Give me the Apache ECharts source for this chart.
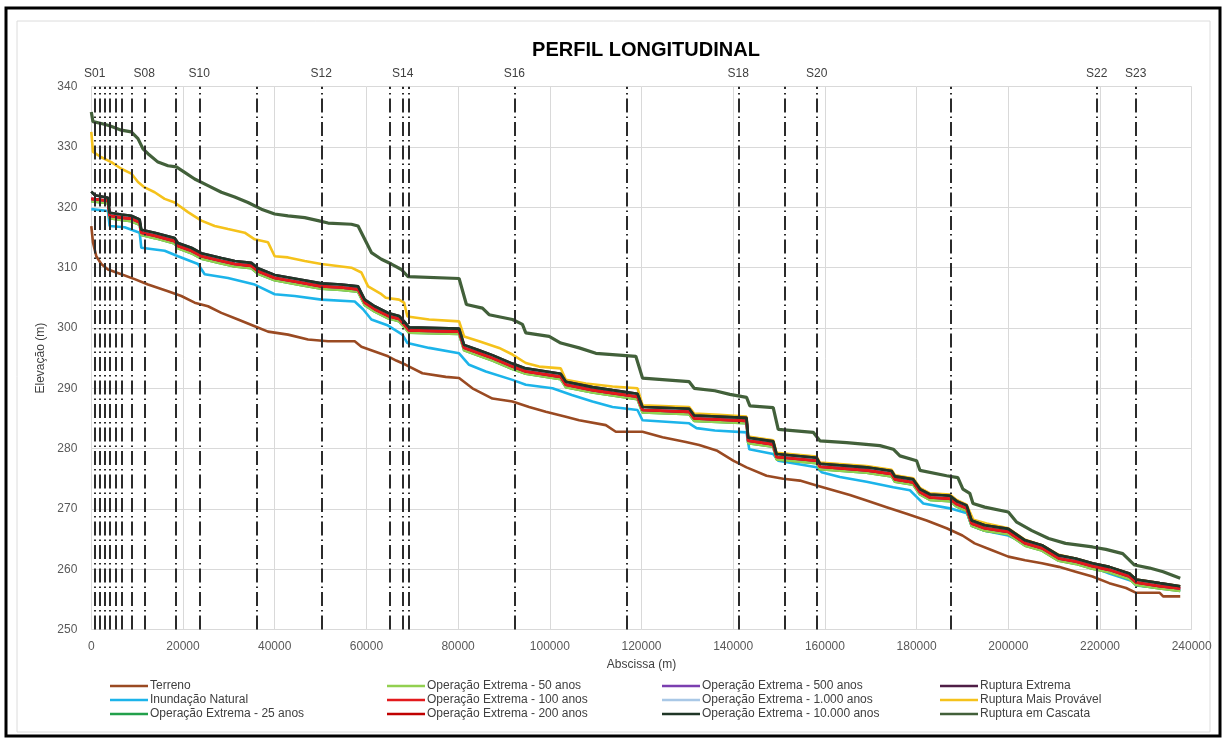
<!DOCTYPE html>
<html>
<head>
<meta charset="utf-8">
<script src="https://cdn.jsdelivr.net/npm/echarts@6/dist/echarts.min.js"></script>
<style>
html,body{margin:0;padding:0;background:#fff;}
#chart{width:1227px;height:742px;}
</style>
</head>
<body>
<div id="chart"></div>
<script>
// ---- data ----
const xTicks = [0, 20000, 40000, 60000, 80000, 100000, 120000, 140000, 160000, 180000, 200000, 220000, 240000];
const yTicks = [250, 260, 270, 280, 290, 300, 310, 320, 330, 340];

const sectionX = [740, 1750, 2990, 4080, 5230, 6540, 8880, 11550, 18410, 23550, 36070, 50160, 65150, 67920, 69140, 92260, 116770, 141110, 151300, 158210, 187440, 219280, 227790];
const sectionLabels = ['S01', '', '', '', '', '', '', 'S08', '', 'S10', '', 'S12', '', 'S14', '', 'S16', '', 'S18', '', 'S20', '', 'S22', 'S23'];

const terreno = [[0,316.9],[364,314.2],[1091,311.9],[2182,310.6],[3636,309.7],[6545,308.9],[9455,308.1],[12364,307.2],[16727,306.1],[19636,305.3],[22545,304.2],[25455,303.6],[28364,302.5],[32000,301.4],[35636,300.3],[38545,299.4],[42909,298.9],[47273,298.1],[51636,297.8],[57455,297.8],[58909,296.9],[61818,296.1],[64727,295.3],[66500,294.6],[68582,293.9],[72218,292.5],[77309,291.9],[80218,291.7],[83127,290.0],[87491,288.3],[91855,287.8],[95491,286.9],[99127,286.1],[103491,285.3],[106400,284.7],[112218,283.9],[114400,282.8],[120218,282.8],[124582,281.9],[129673,281.1],[132582,280.6],[136364,279.7],[140000,278.0],[142909,276.9],[147273,275.5],[150909,275.0],[154545,274.7],[158182,273.9],[161818,273.1],[165455,272.3],[169091,271.4],[173455,270.3],[177818,269.2],[182182,268.1],[186545,266.8],[190000,265.6],[192660,264.3],[196330,263.2],[200000,262.1],[203670,261.5],[207340,261.0],[211010,260.4],[214680,259.6],[218350,258.8],[222020,257.7],[225690,256.9],[227890,256.1],[233030,256.1],[233770,255.5],[237500,255.5]];

const inundacao = [[0,319.7],[3636,319.4],[4000,316.9],[7273,316.7],[10545,315.8],[10909,313.3],[16000,312.8],[18909,311.9],[23273,310.6],[24727,308.9],[29818,308.3],[35636,307.2],[40000,305.6],[44364,305.3],[50182,304.7],[57455,304.4],[59273,303.1],[61091,301.4],[64727,300.4],[67855,298.9],[68945,297.5],[73673,296.7],[80218,295.8],[82400,293.9],[86036,292.8],[91855,291.4],[94764,290.6],[100582,290.0],[104800,288.9],[109310,287.8],[113673,286.9],[119127,286.4],[120218,284.7],[130400,284.2],[132000,283.4],[136000,283.0],[142909,282.7],[143500,279.9],[148727,279.1],[149818,278.0],[158182,276.9],[159273,276.1],[163273,275.3],[169091,274.5],[174909,273.6],[178545,273.1],[180000,272.0],[181455,270.9],[187273,270.1],[191000,269.3],[192000,267.2],[194860,266.4],[200000,265.6],[203670,264.3],[207340,263.2],[211010,261.8],[218350,260.4],[222020,259.3],[227160,258.0],[227890,257.3],[233030,256.9],[237500,256.5]];

const bundleLow = [[0,321.0],[3636,320.7],[4000,318.2],[6545,317.9],[8727,317.7],[10545,317.1],[10909,315.4],[13818,314.9],[18182,314.0],[18909,313.2],[21818,312.4],[24000,311.5],[28364,310.7],[31273,310.2],[34909,309.9],[36364,309.0],[40000,307.9],[45818,307.1],[50182,306.5],[54545,306.3],[58182,306.0],[59636,303.8],[61818,302.7],[64727,301.6],[67127,301.1],[68218,300.2],[69309,299.2],[80218,299.0],[81309,296.3],[84582,295.4],[87491,294.6],[91855,293.2],[94764,292.4],[102400,291.5],[103491,290.2],[109310,289.3],[113673,288.8],[119127,288.2],[120218,286.0],[130400,285.7],[131490,284.6],[142909,284.2],[143273,280.9],[148727,280.3],[149455,278.2],[158182,277.6],[158909,276.6],[169091,276.0],[174545,275.4],[175273,274.5],[179273,274.0],[180727,272.4],[182909,271.5],[187273,271.3],[188727,270.4],[190909,269.7],[192000,267.2],[194860,266.4],[200000,265.8],[203670,263.9],[207340,263.1],[211010,261.4],[214680,260.9],[218350,260.1],[222020,259.5],[226420,258.4],[227890,257.4],[233030,256.8],[237500,256.4]];

const bundleMid = [[0,321.4],[3636,321.1],[4000,318.6],[6545,318.3],[8727,318.1],[10545,317.5],[10909,315.8],[13818,315.3],[18182,314.4],[18909,313.6],[21818,312.8],[24000,311.9],[28364,311.1],[31273,310.6],[34909,310.3],[36364,309.4],[40000,308.3],[45818,307.5],[50182,306.9],[54545,306.7],[58182,306.4],[59636,304.2],[61818,303.1],[64727,302.0],[67127,301.5],[68218,300.6],[69309,299.6],[80218,299.4],[81309,296.7],[84582,295.8],[87491,295.0],[91855,293.6],[94764,292.8],[102400,291.9],[103491,290.6],[109310,289.7],[113673,289.2],[119127,288.6],[120218,286.4],[130400,286.1],[131490,285.0],[142909,284.6],[143273,281.3],[148727,280.7],[149455,278.6],[158182,278.0],[158909,277.0],[169091,276.4],[174545,275.8],[175273,274.9],[179273,274.4],[180727,272.8],[182909,271.9],[187273,271.7],[188727,270.8],[190909,270.1],[192000,267.6],[194860,266.8],[200000,266.2],[203670,264.3],[207340,263.5],[211010,261.8],[214680,261.3],[218350,260.5],[222020,259.9],[226420,258.8],[227890,257.8],[233030,257.2],[237500,256.8]];

const bundleTop = [[0,322.6],[800,322.0],[3636,321.6],[4000,319.1],[6545,318.8],[8727,318.6],[10545,318.0],[10909,316.3],[13818,315.8],[18182,314.9],[18909,314.1],[21818,313.3],[24000,312.4],[28364,311.6],[31273,311.1],[34909,310.8],[36364,309.9],[40000,308.8],[45818,308.0],[50182,307.4],[54545,307.2],[58182,306.9],[59636,304.7],[61818,303.6],[64727,302.5],[67127,302.0],[68218,301.1],[69309,300.1],[80218,299.9],[81309,297.2],[84582,296.3],[87491,295.5],[91855,294.1],[94764,293.3],[102400,292.4],[103491,291.1],[109310,290.2],[113673,289.7],[119127,289.1],[120218,286.9],[130400,286.6],[131490,285.5],[142909,285.1],[143273,281.8],[148727,281.2],[149455,279.1],[158182,278.5],[158909,277.5],[169091,276.9],[174545,276.3],[175273,275.4],[179273,274.9],[180727,273.3],[182909,272.4],[187273,272.2],[188727,271.3],[190909,270.6],[192000,268.1],[194860,267.3],[200000,266.7],[203670,264.8],[207340,264.0],[211010,262.3],[214680,261.8],[218350,261.0],[222020,260.4],[226420,259.3],[227890,258.3],[233030,257.7],[237500,257.2]];

const maisProvavel = [[0,332.5],[364,329.2],[2182,328.3],[4364,327.5],[6545,326.4],[8727,325.6],[10182,324.2],[11636,323.3],[13818,322.5],[16000,321.4],[18182,320.8],[21091,319.2],[24000,317.8],[26909,316.9],[29818,316.4],[33455,315.8],[35636,314.7],[38545,314.2],[40000,311.9],[42909,311.7],[46545,311.1],[50182,310.6],[56727,310.0],[58909,309.2],[60364,306.9],[63273,305.6],[64218,305.0],[67127,304.7],[68218,304.2],[68945,301.9],[73673,301.4],[80218,301.1],[81309,298.6],[84582,297.8],[88945,296.7],[91855,295.6],[94764,294.2],[97673,293.6],[102400,293.3],[103491,291.4],[107855,290.8],[113673,290.3],[119127,290.0],[120218,287.2],[130400,286.9],[131490,285.8],[136945,285.6],[142909,285.3],[143273,282.0],[148727,281.4],[149455,279.3],[158182,278.7],[158909,277.7],[169091,277.1],[174545,276.5],[175273,275.6],[179273,275.1],[180727,273.5],[182909,272.6],[187273,272.4],[188727,271.5],[190909,270.7],[192364,268.2],[195273,267.6],[200000,266.8],[203670,264.9],[207340,264.0],[211010,262.4],[214680,261.8],[218350,261.0],[222020,260.4],[226420,259.3],[227890,258.3],[233030,257.7],[237500,257.2]];

const cascata = [[0,335.8],[364,334.2],[2182,333.9],[3636,333.6],[4727,333.3],[6545,332.8],[8727,332.5],[10182,331.4],[11273,329.7],[12364,328.9],[14545,327.5],[16727,326.9],[18545,326.7],[20364,325.8],[22545,324.7],[25455,323.6],[28364,322.5],[31273,321.7],[34182,320.8],[37091,319.7],[40000,318.9],[42909,318.6],[46545,318.3],[49455,317.8],[51636,317.4],[56727,317.2],[58182,316.9],[59636,314.7],[61091,312.5],[63273,311.4],[65455,310.6],[67636,309.7],[69091,308.5],[80218,308.2],[81818,303.9],[85310,303.3],[86764,302.2],[91855,301.4],[94036,300.6],[94764,299.2],[99855,298.6],[102400,297.5],[106400,296.7],[110036,295.8],[113673,295.6],[118764,295.3],[120218,291.7],[130400,291.1],[131490,290.0],[136000,289.6],[139273,289.0],[142909,288.5],[143636,287.1],[148727,286.8],[149818,283.2],[157455,282.7],[158909,281.3],[164727,281.0],[172000,280.5],[174909,279.9],[176364,278.8],[180000,278.0],[180727,276.4],[186545,275.5],[189000,275.2],[190100,273.3],[191600,272.6],[192300,270.9],[194860,270.3],[200000,269.5],[201835,267.8],[205140,266.4],[208800,265.1],[212480,264.3],[218350,263.7],[221290,263.3],[224960,262.6],[227530,260.7],[230830,260.2],[233770,259.6],[237500,258.5]];

const legendCols = [
  ['Terreno', 'Inundação Natural', 'Operação Extrema - 25 anos'],
  ['Operação Extrema - 50 anos', 'Operação Extrema - 100 anos', 'Operação Extrema - 200 anos'],
  ['Operação Extrema - 500 anos', 'Operação Extrema - 1.000 anos', 'Operação Extrema - 10.000 anos'],
  ['Ruptura Extrema', 'Ruptura Mais Provável', 'Ruptura em Cascata']
];

// ---- chart ----
const FONT = "'Liberation Sans', Arial, sans-serif";
const chart = echarts.init(document.getElementById('chart'), null, {renderer: 'canvas'});

function lineSeries(name, data, color, width) {
  return {
    name: name, type: 'line', data: data, symbol: 'none', showSymbol: false,
    lineStyle: {color: color, width: width || 2.6}, itemStyle: {color: color},
    emphasis: {disabled: true}, silent: true, animation: false
  };
}

const sectionLines = {
  type: 'line', data: [], silent: true, animation: false,
  markLine: {
    silent: true, symbol: ['none', 'none'], animation: false,
    lineStyle: {color: '#2b2b2b', width: 2, type: [14, 4, 1.5, 4]},
    label: {show: true, position: 'end', distance: 7, color: '#404040', fontSize: 12, fontFamily: FONT},
    emphasis: {disabled: true},
    data: sectionX.map((x, i) => ({xAxis: x, label: {show: sectionLabels[i] !== '', formatter: sectionLabels[i]}}))
  }
};

const legendLefts = [110, 387, 662, 940];

const option = {
  animation: false,
  backgroundColor: '#fff',
  title: {
    text: 'PERFIL LONGITUDINAL', left: 641, top: 35, textAlign: 'center',
    textStyle: {fontFamily: FONT, fontSize: 20, fontWeight: 'bold', color: '#000'}
  },
  grid: {left: 91.3, right: 35.3, top: 86.7, bottom: 112.4, containLabel: false},
  xAxis: {
    type: 'value', min: xTicks[0], max: xTicks[xTicks.length - 1], interval: xTicks[1] - xTicks[0],
    name: 'Abscissa (m)', nameLocation: 'middle', nameGap: 29,
    nameTextStyle: {fontFamily: FONT, fontSize: 12, color: '#404040'},
    axisLine: {show: false}, axisTick: {show: false},
    axisLabel: {fontFamily: FONT, fontSize: 12, color: '#595959', margin: 11, formatter: v => String(v)},
    splitLine: {show: true, lineStyle: {color: '#d9d9d9', width: 1}}
  },
  yAxis: {
    type: 'value', min: yTicks[0], max: yTicks[yTicks.length - 1], interval: yTicks[1] - yTicks[0],
    name: 'Elevação (m)', nameLocation: 'middle', nameGap: 40, nameRotate: 90,
    nameTextStyle: {fontFamily: FONT, fontSize: 12, color: '#404040'},
    axisLine: {show: false}, axisTick: {show: false},
    axisLabel: {fontFamily: FONT, fontSize: 12, color: '#595959', margin: 14},
    splitLine: {show: true, lineStyle: {color: '#d9d9d9', width: 1}}
  },
  legend: legendCols.map((col, i) => ({
    data: col, orient: 'vertical', left: legendLefts[i], top: 679,
    icon: 'rect', itemWidth: 38, itemHeight: 2.5, itemGap: 0, padding: 0,
    selectedMode: false,
    textStyle: {fontFamily: FONT, fontSize: 12, lineHeight: 14, color: '#404040', padding: [0, 0, 0, -3]}
  })),
  graphic: [
    {type: 'rect', silent: true, shape: {x: 17, y: 21, width: 1193, height: 711}, style: {fill: 'none', stroke: '#dcdcdc', lineWidth: 1}},
    {type: 'rect', silent: true, shape: {x: 6, y: 8, width: 1214, height: 728}, style: {fill: 'none', stroke: '#000', lineWidth: 3}}
  ],
  series: [
    sectionLines,
    lineSeries('Terreno', terreno, '#9a4a22'),
    lineSeries('Inundação Natural', inundacao, '#1cb4ea'),
    lineSeries('Ruptura Mais Provável', maisProvavel, '#f5c21b'),
    lineSeries('Operação Extrema - 25 anos', bundleLow, '#22a04b'),
    lineSeries('Operação Extrema - 50 anos', bundleLow, '#92d050'),
    lineSeries('Operação Extrema - 1.000 anos', bundleMid, '#a9c8e6'),
    lineSeries('Operação Extrema - 500 anos', bundleMid, '#7b3fb0'),
    lineSeries('Operação Extrema - 200 anos', bundleMid, '#c00000'),
    lineSeries('Operação Extrema - 100 anos', bundleMid, '#e31a1c'),
    lineSeries('Ruptura Extrema', bundleTop, '#4f1e46'),
    lineSeries('Operação Extrema - 10.000 anos', bundleTop, '#1f3626'),
    lineSeries('Ruptura em Cascata', cascata, '#42603a', 3.2)
  ]
};

chart.setOption(option);
</script>
</body>
</html>
